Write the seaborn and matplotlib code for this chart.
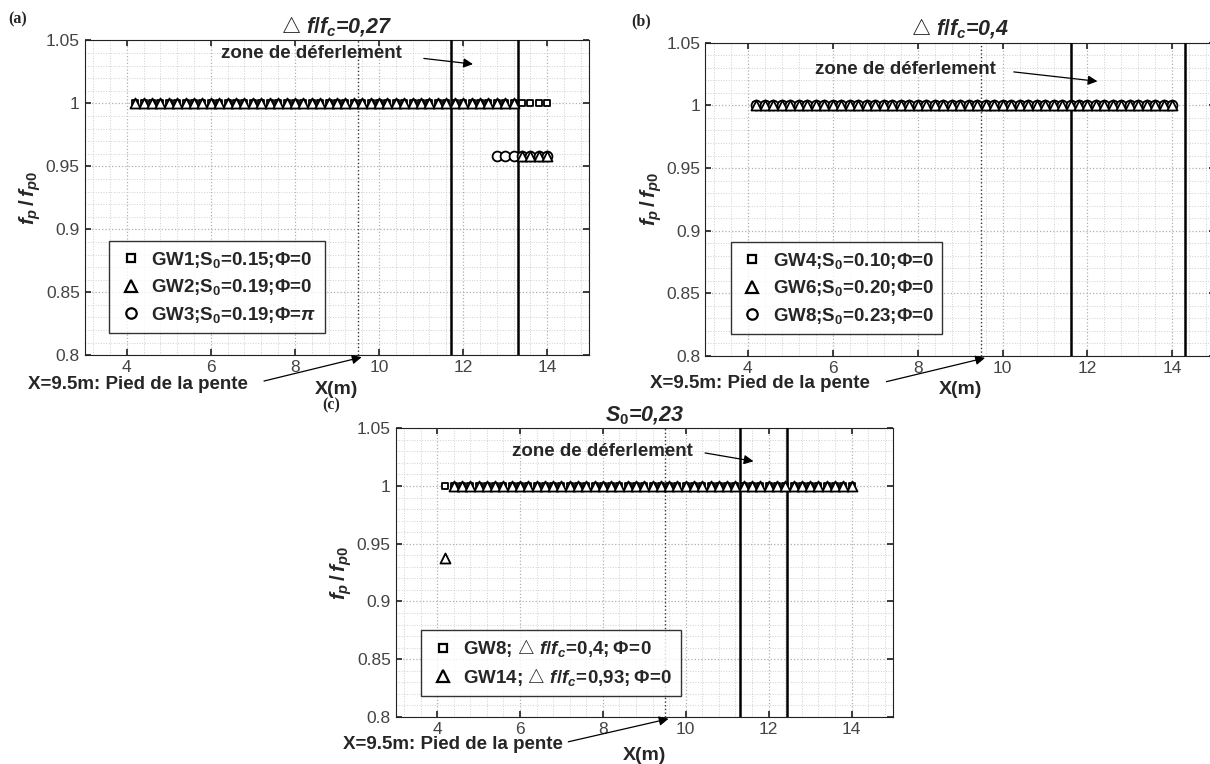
import numpy as np
import pandas as pd
import matplotlib
matplotlib.use("Agg")
import matplotlib.pyplot as plt
import seaborn as sns
from matplotlib.lines import Line2D
from matplotlib.ticker import MultipleLocator

# gauge positions (m)
x_gauges = [4.2, 4.4, 4.6, 4.8, 5.0, 5.2, 5.4, 5.6, 5.8, 6.0,
            6.2, 6.4, 6.6, 6.8, 7.0, 7.2, 7.4, 7.6, 7.8, 8.0,
            8.2, 8.4, 8.6, 8.8, 9.0, 9.2, 9.4, 9.6, 9.8, 10.0,
            10.2, 10.4, 10.6, 10.8, 11.0, 11.2, 11.4, 11.6, 11.8, 12.0,
            12.2, 12.4, 12.6, 12.8, 13.0, 13.2, 13.4, 13.6, 13.8, 14.0]

# (a) df/fc = 0.27
gw1_y = [1.0] * 50
gw2_y = [1.0] * 46 + [0.958, 0.958, 0.958, 0.958]
gw3_x = [12.8, 13.0, 13.2, 13.4, 13.6, 13.8, 14.0]
gw3_y = [0.958, 0.958, 0.958, 0.958, 0.958, 0.958, 0.958]

# (b) df/fc = 0.4
gw4_y = [1.0] * 50
gw6_y = [1.0] * 50
gw8_y = [1.0] * 50

# (c) S0 = 0.23
gw8c_y = [1.0] * 50
gw14_y = [0.938] + [1.0] * 49

# breaking zone limits and slope toe
break_a = [11.7, 13.3]
break_b = [11.6, 14.3]
break_c = [11.3, 12.45]
x_toe = 9.5

sns.set_theme(style="white")
plt.rcParams["font.family"] = ["Liberation Sans", "DejaVu Sans"]
plt.rcParams["mathtext.fontset"] = "custom"
plt.rcParams["mathtext.it"] = "Liberation Sans:bold:italic"
plt.rcParams["mathtext.rm"] = "Liberation Sans:bold"
plt.rcParams["mathtext.bf"] = "Liberation Sans:bold"

fig = plt.figure(figsize=(12.1, 7.64), dpi=100)
ax_a = fig.add_axes([0.070, 0.535, 0.417, 0.412])
ax_b = fig.add_axes([0.583, 0.534, 0.421, 0.410])
ax_c = fig.add_axes([0.327, 0.0615, 0.411, 0.378])


def style_axes(ax, title, breaks, zone_txt, zone_arrow, toe_txt, toe_arrow, xpad):
    ax.set_xlim(3, 15)
    ax.set_ylim(0.8, 1.05)
    ax.xaxis.set_minor_locator(MultipleLocator(0.4))
    ax.yaxis.set_minor_locator(MultipleLocator(0.01))
    ax.set_xticks([4, 6, 8, 10, 12, 14])
    ax.set_yticks([0.8, 0.85, 0.9, 0.95, 1.0, 1.05])
    ax.set_yticklabels(["0.8", "0.85", "0.9", "0.95", "1", "1.05"])
    ax.grid(which="major", color="#b0b0b0", linestyle=":", linewidth=0.9)
    ax.grid(which="minor", color="#d0d0d0", linestyle=":", linewidth=0.7)
    ax.set_axisbelow(True)
    ax.tick_params(which="both", direction="in", length=4, labelsize=12.5,
                   labelcolor="#444444", top=True, right=True, bottom=True, left=True)
    ax.tick_params(which="minor", length=0)
    for sp in ax.spines.values():
        sp.set_color("#222222")
        sp.set_linewidth(0.8)
    ax.set_title(title, fontsize=15.5, pad=5, fontweight="bold", fontstyle="italic")
    ax.set_xlabel("X(m)", fontsize=14, fontweight="bold", labelpad=xpad)
    ax.set_ylabel(r"$f_p\,/\,f_{p0}$", fontsize=15, labelpad=2)
    ax.axvline(x_toe, color="#333333", linestyle=":", linewidth=1.0, zorder=1)
    for xb in breaks:
        ax.axvline(xb, color="black", linewidth=1.8, zorder=4)
    ax.text(zone_txt[0], zone_txt[1], "zone de déferlement", fontsize=13.5,
            fontweight="bold", ha="center", va="center")
    ax.annotate("", xy=zone_arrow[1], xytext=zone_arrow[0],
                arrowprops=dict(arrowstyle="-|>", color="black", lw=0.9,
                                mutation_scale=14))
    ax.text(toe_txt[0], toe_txt[1], "X=9.5m: Pied de la pente", fontsize=13.5,
            fontweight="bold", ha="left", va="center", clip_on=False)
    ax.annotate("", xy=toe_arrow[1], xytext=toe_arrow[0],
                arrowprops=dict(arrowstyle="-|>", color="black", lw=0.9,
                                mutation_scale=14),
                annotation_clip=False)


def scatter(ax, x, y, marker, size, z):
    sns.scatterplot(x=x, y=y, ax=ax, marker=marker, s=size, color="white",
                    edgecolor="black", linewidth=1.3, zorder=z, legend=False)


def legend(ax, labels, bbox, markers, italic_from=None):
    sizes = {"s": 5.5, "^": 8, "o": 7.5}
    handles = [Line2D([], [], linestyle="", marker=m, markersize=sizes[m],
                      markerfacecolor="white", markeredgecolor="black",
                      markeredgewidth=1.6) for m in markers]
    leg = ax.legend(handles, labels, loc="lower left", bbox_to_anchor=bbox,
                    fontsize=13.5, frameon=True, fancybox=False, borderpad=0.45,
                    handletextpad=0.4, labelspacing=0.4, handlelength=1.4)
    leg.get_frame().set_edgecolor("black")
    leg.get_frame().set_linewidth(1.0)
    for t in leg.get_texts():
        t.set_fontweight("bold")
    leg.set_zorder(10)


# panel (a)
scatter(ax_a, x_gauges, gw1_y, "s", 24, 5)
scatter(ax_a, gw3_x, gw3_y, "o", 50, 6)
scatter(ax_a, x_gauges, gw2_y, "^", 52, 7)
style_axes(ax_a, r"$\bigtriangleup$ $f/f_c$=0,27", break_a,
           (8.4, 1.04), ((11.0, 1.036), (12.3, 1.031)),
           (1.65, 0.777), ((7.2, 0.779), (9.65, 0.799)), 4)
legend(ax_a, [r"GW1;S$_0$=0.15;$\mathrm{\Phi}$=0",
              r"GW2;S$_0$=0.19;$\mathrm{\Phi}$=0",
              r"GW3;S$_0$=0.19;$\mathrm{\Phi}$=$\pi$"],
       (0.03, 0.04), ["s", "^", "o"])

# panel (b)
scatter(ax_b, x_gauges, gw4_y, "s", 24, 5)
scatter(ax_b, x_gauges, gw8_y, "o", 50, 6)
scatter(ax_b, x_gauges, gw6_y, "^", 52, 7)
style_axes(ax_b, r"$\bigtriangleup$ $f/f_c$=0,4", break_b,
           (7.7, 1.029), ((10.2, 1.027), (12.3, 1.019)),
           (1.7, 0.778), ((7.2, 0.779), (9.65, 0.799)), 4)
legend(ax_b, [r"GW4;S$_0$=0.10;$\mathrm{\Phi}$=0",
              r"GW6;S$_0$=0.20;$\mathrm{\Phi}$=0",
              r"GW8;S$_0$=0.23;$\mathrm{\Phi}$=0"],
       (0.031, 0.04), ["s", "^", "o"])

# panel (c)
scatter(ax_c, x_gauges, gw8c_y, "s", 24, 5)
scatter(ax_c, x_gauges, gw14_y, "^", 52, 7)
style_axes(ax_c, r"$S_0$=0,23", break_c,
           (8.0, 1.03), ((10.4, 1.029), (11.7, 1.021)),
           (1.73, 0.776), ((7.1, 0.778), (9.65, 0.799)), 7)
legend(ax_c, [r"GW8; $\bigtriangleup\ f/f_c\!=\!0{,}4;\Phi\!=\!0$",
              r"GW14; $\bigtriangleup\ f/f_c\!=\!0{,}93;\Phi\!=\!0$"],
       (0.032, 0.039), ["s", "^"])

# panel labels
fig.text(0.007, 0.975, "(a)", fontsize=11.5, fontweight="bold",
         family="Liberation Serif", va="center")
fig.text(0.522, 0.972, "(b)", fontsize=11.5, fontweight="bold",
         family="Liberation Serif", va="center")
fig.text(0.266, 0.470, "(c)", fontsize=11.5, fontweight="bold",
         family="Liberation Serif", va="center")

fig.savefig("out.png", dpi=100)
